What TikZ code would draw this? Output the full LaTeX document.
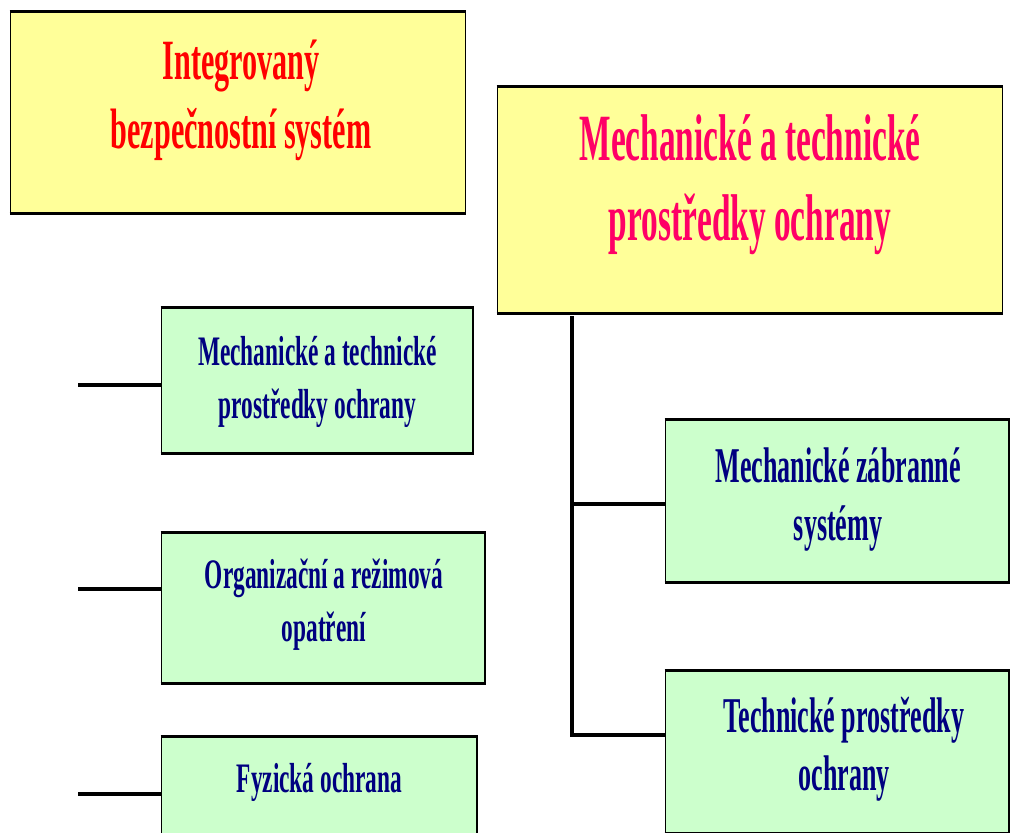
\documentclass[tikz,border=0pt]{standalone}
\usepackage{fontspec}
\newfontfamily\ibsfont[FakeStretch=0.53]{Liberation Serif}
\newfontfamily\mtpfont[FakeStretch=0.505]{Liberation Serif}
\newfontfamily\leftfont[FakeStretch=0.556]{Liberation Serif}
\newfontfamily\rightfont[FakeStretch=0.52]{Liberation Serif}
\definecolor{boxyellow}{RGB}{255,255,153}
\definecolor{boxgreen}{RGB}{204,255,204}
\definecolor{titlered}{RGB}{255,0,0}
\definecolor{titlepink}{RGB}{255,0,102}
\definecolor{itemblue}{RGB}{0,0,128}
\begin{document}
\begin{tikzpicture}[x=0.02cm,y=-0.02cm,
    box/.style={draw, line width=0.6pt, inner sep=0pt},
    yellowbox/.style={box, fill=boxyellow},
    greenbox/.style={box, fill=boxgreen},
    boxtext/.style={align=center, inner sep=0pt},
    edgeline/.style={line width=2.1pt},
    branch/.style={line width=2.8pt}]

    \useasboundingbox (0,0) rectangle (1010,832);

    % Nadpisy
    \node[yellowbox, minimum width=9.12cm, minimum height=4.02cm] (ibs) at (238,112.5) {};
    \node[yellowbox, minimum width=10.12cm, minimum height=4.52cm] (mtp) at (750,200) {};

    % Leva strana
    \node[greenbox, minimum width=6.24cm, minimum height=2.9cm] (g1) at (317,380.5) {};
    \node[greenbox, minimum width=6.48cm, minimum height=3cm] (g2) at (323,608) {};
    \node[greenbox, minimum width=6.32cm, minimum height=3cm] (g3) at (319,812) {};

    % Prava strana
    \node[greenbox, minimum width=6.88cm, minimum height=3.24cm] (g4) at (837,501) {};
    \node[greenbox, minimum width=6.88cm, minimum height=3.24cm] (g5) at (837,752) {};

    % Silne horni a dolni hrany
    \foreach \n in {ibs,mtp,g1,g2,g3,g4,g5} {
        \draw[edgeline] (\n.north west) -- (\n.north east);
        \draw[edgeline] (\n.south west) -- (\n.south east);
    }

    % Texty
    \node[boxtext, text=titlered, font=\ibsfont\bfseries\fontsize{32.4}{39.3}\selectfont] (ibs-t) at (241,100) {Integrovaný\\bezpečnostní systém};
    \node[boxtext, text=titlepink, font=\mtpfont\bfseries\fontsize{37.6}{45.5}\selectfont] (mtp-t) at (750,185) {Mechanické a technické\\prostředky ochrany};
    \node[boxtext, text=itemblue, font=\leftfont\bfseries\fontsize{23.9}{30.2}\selectfont] (g1-t) at (317.5,382) {Mechanické a technické\\prostředky ochrany};
    \node[boxtext, text=itemblue, font=\leftfont\bfseries\fontsize{23.9}{30.2}\selectfont] (g2-t) at (324,605) {Organizační a režimová\\opatření};
    \node[boxtext, text=itemblue, font=\leftfont\bfseries\fontsize{23.9}{30.2}\selectfont] (g3-t) at (319.5,782.5) {Fyzická ochrana};
    \node[boxtext, text=itemblue, font=\rightfont\bfseries\fontsize{28.5}{33}\selectfont] (g4-t) at (838,499.5) {Mechanické zábranné\\systémy};
    \node[boxtext, text=itemblue, font=\rightfont\bfseries\fontsize{28.5}{33}\selectfont] (g5-t) at (844,749.5) {Technické prostředky\\ochrany};

    % Spojnice vlevo
    \coordinate (s1) at (78,385);
    \coordinate (s2) at (78,589);
    \coordinate (s3) at (78,794);
    \foreach \s/\g in {s1/g1,s2/g2,s3/g3}
        \draw[branch] (\s) -- (\s -| \g.west);

    % Spojnice vpravo
    \coordinate (trunk) at (572,316);
    \coordinate (j1) at (572,504);
    \coordinate (j2) at (572,735);
    \draw[branch] (trunk) -- (j2) -- (j2 -| g5.west);
    \draw[branch] (j1) -- (j1 -| g4.west);
\end{tikzpicture}
\end{document}
